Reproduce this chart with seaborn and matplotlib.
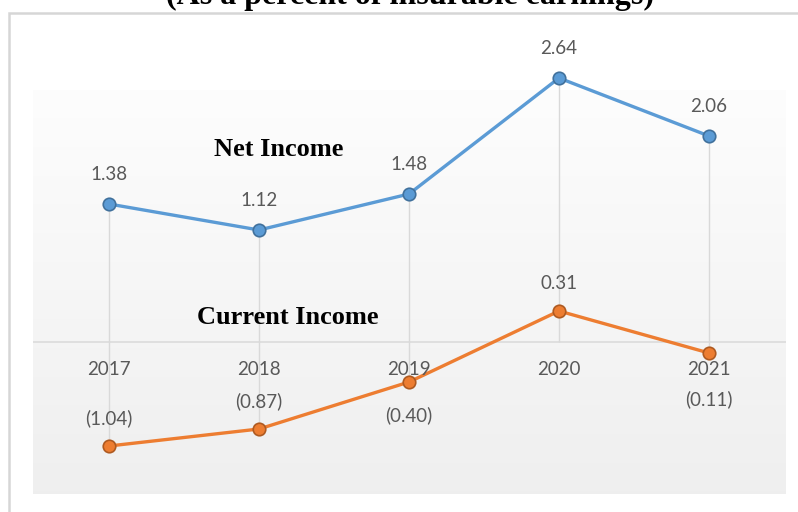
import numpy as np
import pandas as pd
import matplotlib
matplotlib.use("Agg")
import matplotlib.pyplot as plt
from matplotlib.patches import Rectangle
import seaborn as sns

# Financial ratios, as a percent of insurable earnings
years = ["2017", "2018", "2019", "2020", "2021"]
net_income = [1.38, 1.12, 1.48, 2.64, 2.06]
current_income = [-1.04, -0.87, -0.40, 0.31, -0.11]

# where each data label sits relative to its point
net_label_side = ["above", "above", "above", "above", "above"]
current_label_side = ["above", "above", "below", "above", "below"]

title = "(As a percent of insurable earnings)"

sns.set_theme(style="white")
plt.rcParams["font.family"] = ["Lato", "DejaVu Sans"]

W, H = 798, 512
fig = plt.figure(figsize=(W / 100, H / 100), dpi=100)
fig.patch.set_facecolor("white")

# outer chart frame (runs past the right and bottom edges)
fig.add_artist(Rectangle((9 / W, -0.1), 1.2, 1.1 - 13 / H, transform=fig.transFigure,
                         fill=False, edgecolor="#d6d6d6", linewidth=1.8))

fig.text(410 / W, 1 - 4 / H, title, ha="center", va="baseline",
         fontsize=23, fontweight="bold", family="Liberation Serif", color="black")

# axes: left 33px, right 786px, bottom 494px, top extended for the labels
left, right, bottom, top = 33, 786, 494, 30
ax = fig.add_axes([left / W, (H - bottom) / H, (right - left) / W, (bottom - top) / H])
ax.set_facecolor("none")

px_per_unit = 100.0
zero_px = 342
ymin = -(bottom - zero_px) / px_per_unit
ymax = (zero_px - top) / px_per_unit
plot_top = (zero_px - 90) / px_per_unit
x_step = 150.0
xmin = (left - 109) / x_step
xmax = (right - 109) / x_step
ax.set_xlim(xmin, xmax)
ax.set_ylim(ymin, ymax)

# plot-area gradient fill
grad = np.linspace(0, 1, 256).reshape(-1, 1)
c_top = np.array([0.992, 0.992, 0.992])
c_bot = np.array([0.937, 0.937, 0.937])
img = c_top[None, None, :] * (1 - grad[..., None]) + c_bot[None, None, :] * grad[..., None]
ax.imshow(img, extent=[xmin, xmax, ymin, plot_top], aspect="auto", origin="upper", zorder=0)

df = pd.DataFrame({"idx": np.arange(len(years)), "year": years,
                   "net": net_income, "current": current_income})

# zero line and drop lines
ax.axhline(0, color="#d9d9d9", linewidth=1.1, zorder=1)
ax.vlines(df["idx"], np.minimum(df["current"], 0), df["net"], color="#d9d9d9",
          linewidth=1.0, zorder=1)

sns.lineplot(data=df, x="idx", y="net", ax=ax, color="#5B9BD5", linewidth=2.4,
             marker="o", markersize=9, markerfacecolor="#5B9BD5",
             markeredgecolor="#41719C", markeredgewidth=1.2, zorder=3, clip_on=False)
sns.lineplot(data=df, x="idx", y="current", ax=ax, color="#ED7D31", linewidth=2.4,
             marker="o", markersize=9, markerfacecolor="#ED7D31",
             markeredgecolor="#AE5A21", markeredgewidth=1.2, zorder=3, clip_on=False)


def fmt(v):
    return f"({abs(v):.2f})" if v < 0 else f"{v:.2f}"


label_color = "#595959"
label_size = 13.5
for i, v in enumerate(net_income):
    off = 21 if net_label_side[i] == "above" else -21
    ax.annotate(fmt(v), (i, v), xytext=(0, off), textcoords="offset points",
                ha="center", va="center", fontsize=label_size, color=label_color)
for i, v in enumerate(current_income):
    if current_label_side[i] == "above":
        off = 20
    else:
        off = -24 if v < -0.2 else -33
    ax.annotate(fmt(v), (i, v), xytext=(0, off), textcoords="offset points",
                ha="center", va="center", fontsize=label_size, color=label_color)

# category labels just below the zero line
for i, y in enumerate(years):
    ax.annotate(y, (i, 0), xytext=(0, -20), textcoords="offset points",
                ha="center", va="center", fontsize=label_size, color=label_color)

ax.text(1.13, 1.93, "Net Income", ha="center", va="center", fontsize=19,
        fontweight="bold", family="Liberation Serif", color="black")
ax.text(1.19, 0.25, "Current Income", ha="center", va="center", fontsize=19,
        fontweight="bold", family="Liberation Serif", color="black")

ax.set_xlabel("")
ax.set_ylabel("")
ax.set_xticks([])
ax.set_yticks([])
for s in ax.spines.values():
    s.set_visible(False)

fig.savefig("out.png", dpi=100)
